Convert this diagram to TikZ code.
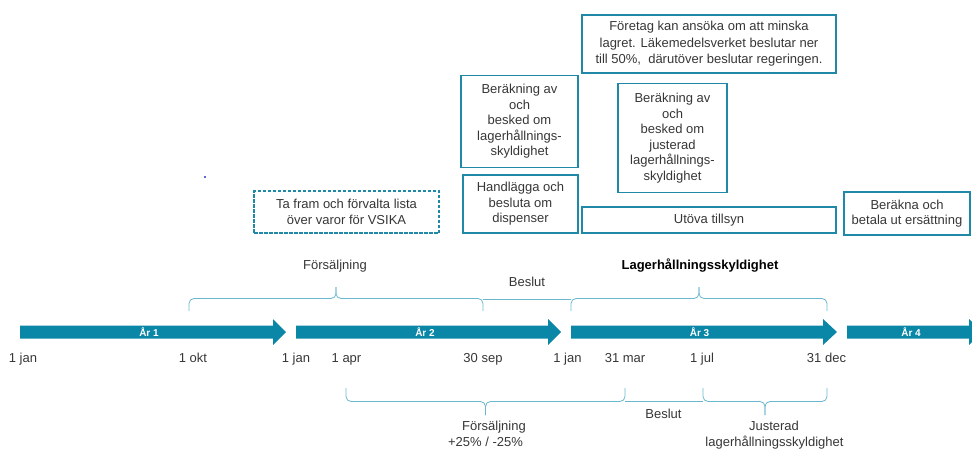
\documentclass[tikz,border=0pt]{standalone}
\usepackage{fontspec}
\setmainfont{Liberation Sans}
\definecolor{arrowc}{HTML}{0A86A7}
\definecolor{boxc}{HTML}{2189A8}
\definecolor{bracec}{HTML}{6AB7CF}
\definecolor{txt}{HTML}{363636}
\definecolor{dotc}{HTML}{3030C0}
\newcommand\yeararrow[3]{% start x, head base x, tip x
  \fill[arrowc] (#1,325.5) -- (#2,325.5) -- (#2,319) -- (#3,332) -- (#2,345) -- (#2,338.5) -- (#1,338.5) -- cycle;}
\newcommand\topbrace[2]{%
  \draw[brc] (#1,311) -- (#1,298.5) -- ({(#1+#2)/2},298.5) -- ({(#1+#2)/2},287);
  \draw[brc] ({(#1+#2)/2},287) -- ({(#1+#2)/2},298.5) -- (#2,298.5) -- (#2,311);}
\newcommand\botbrace[2]{%
  \draw[brc] (#1,388) -- (#1,401.5) -- ({(#1+#2)/2},401.5) -- ({(#1+#2)/2},415);
  \draw[brc] ({(#1+#2)/2},415) -- ({(#1+#2)/2},401.5) -- (#2,401.5) -- (#2,388);}
\begin{document}
\begin{tikzpicture}[x=1pt,y=-1pt,
  box/.style={draw=boxc, line width=1.8pt, text=txt, align=center, inner sep=0pt,
    font=\fontsize{13}{15.5}\selectfont},
  lbl/.style={text=txt, font=\fontsize{13}{16}\selectfont, inner sep=0pt,
    text height=9.4pt, text depth=2.7pt},
  yr/.style={text=white, font=\fontsize{10}{11}\selectfont\bfseries, inner sep=0pt,
    text height=7.2pt, text depth=0pt},
  brc/.style={draw=bracec, line width=0.8pt, rounded corners=5pt}]
\useasboundingbox (0,0) rectangle (972,450);
\clip (0,0) rectangle (972,450);

% year arrows
\yeararrow{20}{273}{286}
\yeararrow{296}{548}{561}
\yeararrow{571}{823}{837}
\yeararrow{847}{969}{982}
\node[yr] (y1) at (149,332.5) {År 1};
\node[yr] (y2) at (425,332.5) {År 2};
\node[yr] (y3) at (699.5,332.5) {År 3};
\node[yr] (y4) at (911,332.5) {År 4};

% dates
\node[lbl] (d1) at (23,359.5) {1 jan};
\node[lbl] (d2) at (193,359.5) {1 okt};
\node[lbl] (d3) at (296,359.5) {1 jan};
\node[lbl] (d4) at (346.5,359.5) {1 apr};
\node[lbl] (d5) at (483,359.5) {30 sep};
\node[lbl] (d6) at (567.5,359.5) {1 jan};
\node[lbl] (d7) at (625,359.5) {31 mar};
\node[lbl] (d8) at (702,359.5) {1 jul};
\node[lbl] (d9) at (826.5,359.5) {31 dec};

% top braces
\topbrace{189}{483}
\topbrace{571}{827}
\coordinate (tb1) at (483,299);
\coordinate (tb2) at (571,299);
\draw[brc] (tb1) -- (tb2);
\node[lbl] (fs1) at (335,266) {Försäljning};
\node[lbl] (bs1) at (527,283) {Beslut};
\node[lbl, font=\fontsize{13}{16}\selectfont\bfseries, text=black] (lag) at (700,266) {Lagerhållningsskyldighet};

% bottom braces
\botbrace{346}{625}
\botbrace{703}{827}
\coordinate (bb1) at (625,401.5);
\coordinate (bb2) at (703,401.5);
\draw[brc] (bb1) -- (bb2);
\node[lbl] (fs2) at (494,427) {Försäljning};
\node[lbl] (fs2b) at (485.5,443.5) {+25\% / -25\%};
\node[lbl] (bs2) at (663.5,415.5) {Beslut};
\node[lbl] (jus) at (774,427) {Justerad};
\node[lbl] (jusb) at (774.5,443.5) {lagerhållningsskyldighet};

% boxes
\node[box, dashed, dash pattern=on 3.5pt off 1.5pt, minimum width=185pt, minimum height=42pt] (vsika) at (346.5,212)
  {Ta fram och förvalta lista\\över varor för VSIKA};
\node[box, minimum width=117pt, minimum height=92pt] (ber1) at (519.5,121.5)
  {Beräkning av\\och\\besked om\\lagerhållnings-\\skyldighet};
\node[box, minimum width=115pt, minimum height=58pt] (disp) at (520.5,204)
  {Handlägga och\\besluta om\\dispenser};
\node[box, minimum width=254pt, minimum height=58pt, font=\fontsize{13}{16.5}\selectfont] (fore) at (709,44)
  {Företag kan ansöka om att minska\\lagret. Läkemedelsverket beslutar ner\\till 50\%,~ därutöver beslutar regeringen.};
\node[box, minimum width=109pt, minimum height=109pt] (ber2) at (672.5,138)
  {Beräkning av\\och\\besked om\\justerad\\lagerhållnings-\\skyldighet};
\node[box, minimum width=254pt, minimum height=26pt] (tills) at (709,220) {Utöva tillsyn};
\node[box, minimum width=126pt, minimum height=43pt] (ers) at (907,213.5)
  {Beräkna och\\betala ut ersättning};

% stray dot
\fill[dotc] (205,177) circle (1.1pt);
\end{tikzpicture}
\end{document}
